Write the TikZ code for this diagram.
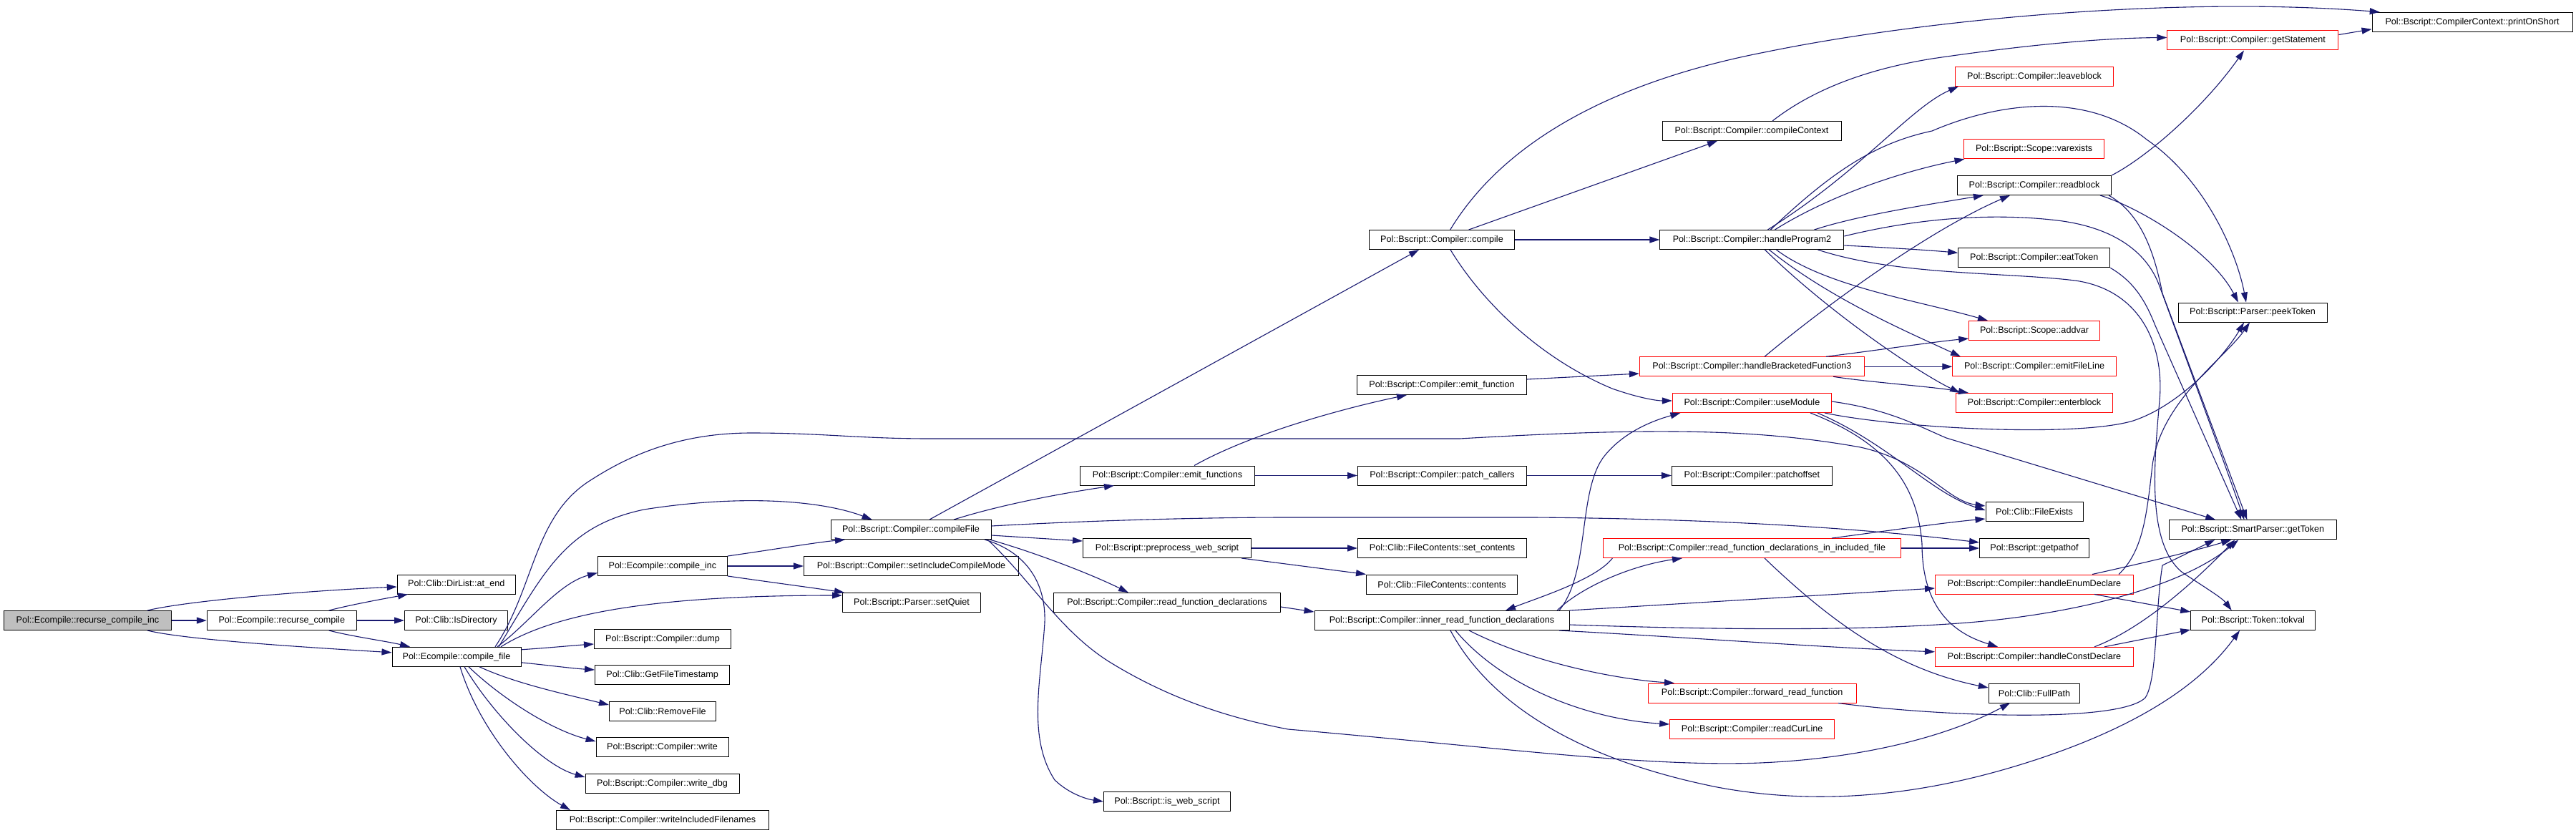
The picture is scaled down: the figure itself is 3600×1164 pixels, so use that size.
\documentclass[tikz,border=0pt]{standalone}
\usepackage{fontspec}
\setmainfont{Liberation Sans}
\usetikzlibrary{calc,arrows.meta}
\definecolor{edgeblue}{HTML}{191970}
\definecolor{nodegray}{HTML}{BFBFBF}
\begin{document}
\begin{tikzpicture}[x=1pt,y=-1pt,
  box/.style={draw=black,line width=1pt,fill=white,minimum height=27pt,inner xsep=2pt,inner ysep=0pt,font=\fontsize{12.6pt}{15pt}\selectfont},
  redbox/.style={box,draw=red},
  e/.style={draw=edgeblue,line width=1.1pt,-{Triangle[length=14pt,width=9pt]}}]
\fill[white] (0,0) rectangle (3600,1164);
\useasboundingbox (0,0) rectangle (3600,1164);

% nodes
\node[box,fill=nodegray,minimum width=234pt] (inc) at (122.5,867) {Pol::Ecompile::recurse\_compile\_inc};
\node[box,minimum width=209pt] (rc) at (393.8,867) {Pol::Ecompile::recurse\_compile};
\node[box,minimum width=165pt] (atend) at (637.7,816.5) {Pol::Clib::DirList::at\_end};
\node[box,minimum width=144pt] (isdir) at (637.5,867) {Pol::Clib::IsDirectory};
\node[box,minimum width=180pt] (cf) at (638,917.8) {Pol::Ecompile::compile\_file};
\node[box,minimum width=181pt] (cinc) at (926,791) {Pol::Ecompile::compile\_inc};
\node[box,minimum width=191pt] (dump) at (926,893) {Pol::Bscript::Compiler::dump};
\node[box,minimum width=188pt] (gft) at (925.6,943) {Pol::Clib::GetFileTimestamp};
\node[box,minimum width=149pt] (rmf) at (926,993.5) {Pol::Clib::RemoveFile};
\node[box,minimum width=185pt] (write) at (925.6,1044) {Pol::Bscript::Compiler::write};
\node[box,minimum width=215pt] (wdbg) at (925.6,1095) {Pol::Bscript::Compiler::write\_dbg};
\node[box,minimum width=297pt] (wif) at (926,1146) {Pol::Bscript::Compiler::writeIncludedFilenames};
\node[box,minimum width=300pt] (sicm) at (1273.4,791) {Pol::Bscript::Compiler::setIncludeCompileMode};
\node[box,minimum width=193pt] (setq) at (1274,842) {Pol::Bscript::Parser::setQuiet};
\node[box,minimum width=224pt] (cfile) at (1273,740) {Pol::Bscript::Compiler::compileFile};
\node[box,minimum width=244pt] (emfs) at (1631.6,664.5) {Pol::Bscript::Compiler::emit\_functions};
\node[box,minimum width=235pt] (pws) at (1631,766) {Pol::Bscript::preprocess\_web\_script};
\node[box,minimum width=317pt] (rfd) at (1631,842) {Pol::Bscript::Compiler::read\_function\_declarations};
\node[box,minimum width=177pt] (iws) at (1631,1120) {Pol::Bscript::is\_web\_script};
\node[box,minimum width=203pt] (comp) at (2015,335) {Pol::Bscript::Compiler::compile};
\node[box,minimum width=237pt] (emf) at (2015,538) {Pol::Bscript::Compiler::emit\_function};
\node[box,minimum width=236pt] (pc) at (2015.5,664.5) {Pol::Bscript::Compiler::patch\_callers};
\node[box,minimum width=236pt] (setc) at (2015.5,766) {Pol::Clib::FileContents::set\_contents};
\node[box,minimum width=211pt] (cont) at (2015,816.5) {Pol::Clib::FileContents::contents};
\node[box,minimum width=356pt] (irfd) at (2015,867) {Pol::Bscript::Compiler::inner\_read\_function\_declarations};
\node[box,minimum width=250pt] (cctx) at (2448,183) {Pol::Bscript::Compiler::compileContext};
\node[box,minimum width=257pt] (hp2) at (2448.4,335) {Pol::Bscript::Compiler::handleProgram2};
\node[redbox,minimum width=314pt] (hbf3) at (2448.4,512.3) {Pol::Bscript::Compiler::handleBracketedFunction3};
\node[redbox,minimum width=222pt] (um) at (2448.4,563) {Pol::Bscript::Compiler::useModule};
\node[box,minimum width=224pt] (po) at (2448.4,664.5) {Pol::Bscript::Compiler::patchoffset};
\node[redbox,minimum width=416pt] (rfdiif) at (2448.4,766) {Pol::Bscript::Compiler::read\_function\_declarations\_in\_included\_file};
\node[redbox,minimum width=291pt] (frf) at (2448.7,968.5) {Pol::Bscript::Compiler::forward\_read\_function};
\node[redbox,minimum width=230pt] (rcl) at (2448.7,1019) {Pol::Bscript::Compiler::readCurLine};
\node[redbox,minimum width=221pt] (leave) at (2843,106.8) {Pol::Bscript::Compiler::leaveblock};
\node[redbox,minimum width=196pt] (varex) at (2842.6,208.3) {Pol::Bscript::Scope::varexists};
\node[box,minimum width=215pt] (rb) at (2843,259) {Pol::Bscript::Compiler::readblock};
\node[box,minimum width=212pt] (eat) at (2842.7,360.3) {Pol::Bscript::Compiler::eatToken};
\node[redbox,minimum width=182.5pt] (addvar) at (2843,462) {Pol::Bscript::Scope::addvar};
\node[redbox,minimum width=228.5pt] (efl) at (2843,512.3) {Pol::Bscript::Compiler::emitFileLine};
\node[redbox,minimum width=219pt] (enter) at (2843,563) {Pol::Bscript::Compiler::enterblock};
\node[box,minimum width=136pt] (fex) at (2843,715) {Pol::Clib::FileExists};
\node[box,minimum width=153pt] (gpo) at (2843,766) {Pol::Bscript::getpathof};
\node[redbox,minimum width=277pt] (hed) at (2843,816.5) {Pol::Bscript::Compiler::handleEnumDeclare};
\node[redbox,minimum width=277pt] (hcd) at (2843,917.8) {Pol::Bscript::Compiler::handleConstDeclare};
\node[box,minimum width=127.5pt] (fp) at (2843,968.5) {Pol::Clib::FullPath};
\node[redbox,minimum width=239pt] (gs) at (3148.4,56.5) {Pol::Bscript::Compiler::getStatement};
\node[box,minimum width=208pt] (peek) at (3148,436.5) {Pol::Bscript::Parser::peekToken};
\node[box,minimum width=234pt] (gt) at (3148.3,740.3) {Pol::Bscript::SmartParser::getToken};
\node[box,minimum width=174pt] (tok) at (3148.7,867) {Pol::Bscript::Token::tokval};
\node[box,minimum width=280pt] (pos) at (3455,30.8) {Pol::Bscript::CompilerContext::printOnShort};

% edges: left part
\draw[e] ($(inc.north)+(83.5,0)$) .. controls (260,840) and (420,826) .. ($(atend.west)+(0,3.5)$);
\draw[e] (inc.east) -- (rc.west);
\draw[e] ($(inc.south)+(83.5,0)$) .. controls (260,894) and (420,904) .. ($(cf.west)+(0,-6)$);
\draw[e] ($(rc.north)+(66,0)$) .. controls (490,845) and (540,836) .. ($(atend.south)+(-67.7,0)$);
\draw[e] (rc.east) -- (isdir.west);
\draw[e] ($(rc.south)+(66,0)$) .. controls (490,889) and (540,896) .. ($(cf.north)+(-65,0)$);
\draw[e] ($(cf.north)+(57,0)$) .. controls (740,870) and (780,815) .. ($(cinc.west)+(0,9.5)$);
\draw[e] ($(cf.north)+(62,0)$) .. controls (770,860) and (900,832) .. ($(setq.west)+(0,-10)$);
\draw[e] ($(cf.north)+(59,0)$) .. controls (760,800) and (790,735) .. (900,712) .. controls (1040,690) and (1150,700) .. ($(cfile.north)+(-54.4,0)$);
\draw[e] ($(cf.north)+(54,0)$) .. controls (748,820) and (745,720) .. (827,670) .. controls (880,636) and (950,605) .. (1050,605) .. controls (1150,605) and (1200,613) .. (1300,613) -- (2040,613) .. controls (2300,598) and (2450,598) .. (2600,625) .. controls (2690,645) and (2720,700) .. ($(fex.west)+(0,-8)$);
\draw[e] ($(cf.east)+(0,-10)$) .. controls (770,905) and (800,902) .. ($(dump.west)+(0,7)$);
\draw[e] ($(cf.east)+(0,8)$) .. controls (770,930) and (800,934) .. ($(gft.west)+(0,-7)$);
\draw[e] ($(cf.south)+(32,0)$) .. controls (720,955) and (790,970) .. ($(rmf.west)+(0,-8.5)$);
\draw[e] ($(cf.south)+(17,0)$) .. controls (700,975) and (770,1020) .. ($(write.west)+(0,-8)$);
\draw[e] ($(cf.south)+(11,0)$) .. controls (690,1000) and (760,1070) .. ($(wdbg.west)+(0,-9)$);
\draw[e] ($(cf.south)+(5,0)$) .. controls (670,1020) and (740,1100) .. ($(wif.north)+(-129,0)$);
\draw[e] (cinc.north east) .. controls (1080,768) and (1140,758) .. ($(cfile.south)+(-92,0)$);
\draw[e] (cinc.east) -- (sicm.west);
\draw[e] (cinc.south east) .. controls (1080,814) and (1140,822) .. ($(setq.north)+(-94,0)$);

% compileFile
\draw[e] ($(cfile.north)+(26,0)$) -- ($(comp.south)+(-32,0)$);
\draw[e] ($(cfile.north)+(60,0)$) .. controls (1400,705) and (1480,690) .. ($(emfs.south)+(-74.6,0)$);
\draw[e] ($(cfile.east)+(0,8)$) -- ($(pws.west)+(0,-10)$);
\draw[e] ($(cfile.south)+(110,0)$) .. controls (1440,770) and (1520,800) .. ($(rfd.north)+(-54,0)$);
\draw[e] ($(cfile.south)+(103,0)$) .. controls (1430,770) and (1462,810) .. (1460,870) .. controls (1455,950) and (1435,1030) .. (1474,1090) .. controls (1495,1110) and (1520,1117) .. (iws.west);
\draw[e] ($(cfile.east)+(0,-5)$) .. controls (1550,726) and (1700,723) .. (1800,723) -- (2144,723) .. controls (2400,725) and (2600,738) .. ($(gpo.west)+(0,-8)$);
\draw[e] ($(cfile.south)+(107,0)$) .. controls (1440,810) and (1480,880) .. (1549,924) .. controls (1620,968) and (1700,1000) .. (1800,1019) .. controls (2100,1045) and (2300,1072) .. (2460,1066) .. controls (2600,1060) and (2720,1030) .. ($(fp.south)+(-34,0)$);

% compile
\draw[e] ($(comp.north)+(11.7,0)$) .. controls (2100,200) and (2250,115) .. (2466,73) .. controls (2700,25) and (3050,-5) .. ($(pos.north)+(-129.3,0)$);
\draw[e] ($(comp.north)+(37.6,0)$) -- ($(cctx.south)+(-48,0)$);
\draw[e] (comp.east) -- (hp2.west);
\draw[e] ($(comp.south)+(12,0)$) .. controls (2070,420) and (2150,500) .. (2253,543) .. controls (2290,556) and (2315,560) .. ($(um.west)+(0,-3)$);
\draw[e] ($(cctx.north)+(29,0)$) .. controls (2540,120) and (2620,95) .. (2700,82) .. controls (2850,60) and (2950,53) .. ($(gs.west)+(0,-4)$);
\draw[e] ($(gs.east)+(0,-8)$) -- ($(pos.west)+(0,10)$);

% handleProgram2
\draw[e] ($(hp2.north)+(22,0)$) .. controls (2600,240) and (2670,150) .. ($(leave.south west)+(5,0)$);
\draw[e] ($(hp2.north)+(26,0)$) .. controls (2560,240) and (2620,200) .. (2700,183) .. controls (2800,140) and (2920,130) .. (3000,195) .. controls (3080,250) and (3125,350) .. ($(peek.north)+(-9,0)$);
\draw[e] ($(hp2.north)+(32,0)$) .. controls (2570,265) and (2680,235) .. ($(varex.south west)+(1.4,0)$);
\draw[e] ($(hp2.north)+(87,0)$) .. controls (2600,300) and (2700,285) .. ($(rb.south)+(-71.2,0)$);
\draw[e] ($(hp2.east)+(0,-5)$) .. controls (2700,300) and (2800,300) .. (2866,307) .. controls (2950,315) and (3000,350) .. (3018,400) .. controls (3040,460) and (3110,650) .. ($(gt.north)+(-12,0)$);
\draw[e] ($(hp2.east)+(0,8)$) .. controls (2640,346) and (2700,350) .. ($(eat.west)+(0,-7)$);
\draw[e] ($(hp2.south)+(92,0)$) .. controls (2650,385) and (2800,380) .. (2900,392) .. controls (2990,405) and (3025,480) .. (3018,560) .. controls (3010,650) and (3000,760) .. (3050,800) .. controls (3080,820) and (3105,835) .. ($(tok.north)+(-30,0)$);
\draw[e] ($(hp2.south)+(34,0)$) .. controls (2550,400) and (2680,420) .. ($(addvar.north)+(-65,0)$);
\draw[e] ($(hp2.south)+(24,0)$) .. controls (2560,420) and (2680,470) .. ($(efl.north)+(-103,0)$);
\draw[e] ($(hp2.south)+(18,0)$) .. controls (2560,440) and (2680,520) .. ($(enter.north)+(-104,0)$);

% handleBracketedFunction3
\draw[e] ($(hbf3.north)+(17.6,0)$) .. controls (2560,420) and (2700,320) .. ($(rb.south)+(-34,0)$);
\draw[e] ($(hbf3.north)+(103.6,0)$) .. controls (2620,490) and (2700,478) .. ($(addvar.west)+(0,11)$);
\draw[e] (hbf3.east) -- (efl.west);
\draw[e] ($(hbf3.south)+(113.6,0)$) .. controls (2620,535) and (2700,540) .. ($(enter.north)+(-92,0)$);

% readblock, eatToken
\draw[e] (rb.north east) .. controls (3000,220) and (3080,150) .. ($(gs.south)+(-12.4,0)$);
\draw[e] ($(rb.south)+(92,0)$) .. controls (2990,290) and (3090,350) .. ($(peek.north)+(-20,0)$);
\draw[e] ($(rb.south)+(104,0)$) .. controls (2995,300) and (3012,360) .. (3022,410) -- ($(gt.north)+(-8,0)$);
\draw[e] (eat.south east) .. controls (2985,395) and (3000,425) .. (3012,455) -- ($(gt.north)+(-16,0)$);

% emit functions etc.
\draw[e] ($(emfs.north)+(37.4,0)$) .. controls (1750,605) and (1880,570) .. ($(emf.south)+(-49,0)$);
\draw[e] (emfs.east) -- (pc.west);
\draw[e] (pc.east) -- (po.west);
\draw[e] ($(emf.east)+(0,-8)$) -- ($(hbf3.west)+(0,9.7)$);
\draw[e] (pws.east) -- (setc.west);
\draw[e] ($(pws.south)+(104,0)$) -- (cont.north west);
\draw[e] ($(rfd.east)+(0,6)$) -- ($(irfd.west)+(0,-12)$);

% inner_read_function_declarations
\draw[e] ($(irfd.north)+(161,0)$) .. controls (2210,820) and (2280,790) .. ($(rfdiif.south)+(-97.4,0)$);
\draw[e] ($(rfdiif.south)+(-195,0)$) .. controls (2230,810) and (2150,835) .. ($(irfd.north)+(89,0)$);
\draw[e] ($(irfd.north)+(164,0)$) .. controls (2222,800) and (2205,690) .. (2240,640) .. controls (2270,600) and (2320,585) .. ($(um.south)+(-100,0)$);
\draw[e] (irfd.north east) -- ($(hed.west)+(0,5.5)$);
\draw[e] ($(irfd.south)+(164,0)$) .. controls (2350,890) and (2550,905) .. ($(hcd.west)+(0,-7)$);
\draw[e] ($(irfd.east)+(0,6)$) .. controls (2400,880) and (2600,882) .. (2750,870) .. controls (2900,858) and (3050,820) .. ($(gt.south)+(-20,0)$);
\draw[e] ($(irfd.south)+(38,0)$) .. controls (2150,930) and (2270,950) .. ($(frf.north)+(-108.7,0)$);
\draw[e] ($(irfd.south)+(19,0)$) .. controls (2100,960) and (2220,1005) .. ($(rcl.west)+(0,-7)$);
\draw[e] ($(irfd.south)+(12,0)$) .. controls (2080,980) and (2200,1060) .. (2400,1100) .. controls (2550,1128) and (2700,1110) .. (2850,1060) .. controls (3000,1010) and (3080,950) .. ($(tok.south)+(-18.7,0)$);

% read_function_declarations_in_included_file
\draw[e] ($(rfdiif.north)+(111.6,0)$) .. controls (2650,740) and (2720,730) .. ($(fex.west)+(0,10)$);
\draw[e] (rfdiif.east) -- (gpo.west);
\draw[e] ($(rfdiif.south)+(17.6,0)$) .. controls (2560,870) and (2650,935) .. ($(fp.west)+(0,-7.5)$);

% useModule
\draw[e] ($(um.south)+(91.6,0)$) .. controls (2640,620) and (2700,690) .. ($(fex.west)+(0,-2)$);
\draw[e] ($(um.south east)+(-10,0)$) .. controls (2650,598) and (2900,612) .. (2981,588) .. controls (3050,565) and (3110,495) .. ($(peek.south)+(-12,0)$);
\draw[e] ($(um.east)+(0,-2)$) .. controls (2640,572) and (2680,595) .. (2720,612) -- ($(gt.north)+(-52,0)$);
\draw[e] ($(um.south)+(81.6,0)$) .. controls (2640,620) and (2680,680) .. (2686,760) .. controls (2686,850) and (2730,885) .. ($(hcd.north)+(-51,0)$);

% handleEnumDeclare, handleConstDeclare, forward_read_function
\draw[e] ($(hed.north)+(81,0)$) .. controls (2980,790) and (3060,772) .. ($(gt.south)+(-30,0)$);
\draw[e] ($(hed.north)+(118,0)$) .. controls (2995,770) and (3000,720) .. (3008,650) .. controls (3020,560) and (3110,500) .. ($(peek.south)+(-4,0)$);
\draw[e] ($(hed.south)+(84,0)$) -- ($(tok.west)+(0,-12)$);
\draw[e] ($(hcd.north)+(84,0)$) .. controls (2990,880) and (3060,820) .. ($(gt.south)+(-25,0)$);
\draw[e] ($(hcd.north)+(98,0)$) -- ($(tok.west)+(0,13)$);
\draw[e] ($(frf.south)+(120.3,0)$) .. controls (2700,1000) and (2960,1012) .. (2998,975) .. controls (3015,950) and (3012,850) .. (3022,790) -- ($(gt.south)+(-53,0)$);
\end{tikzpicture}
\end{document}
